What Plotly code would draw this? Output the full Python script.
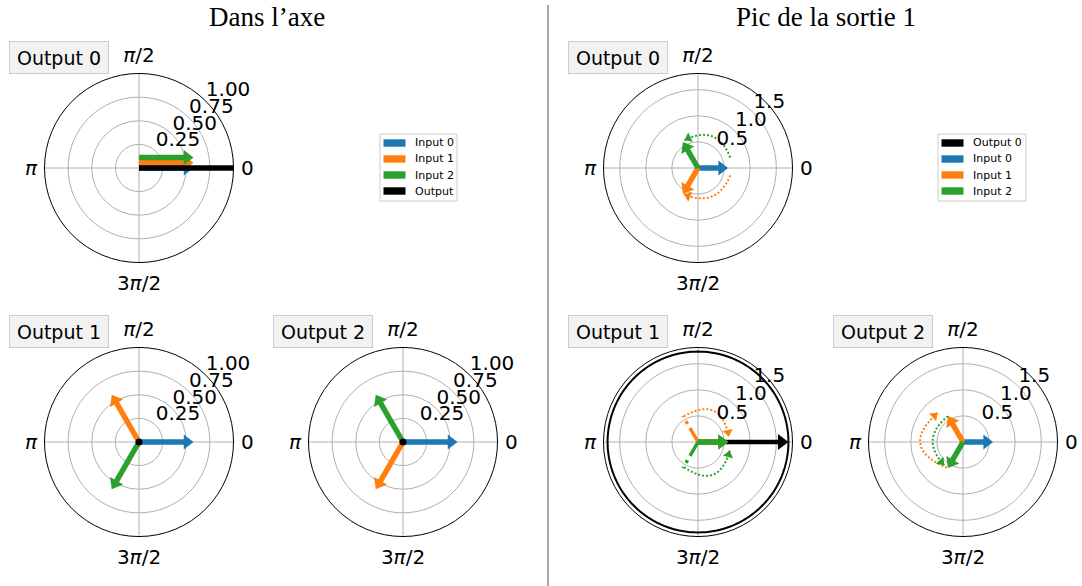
import numpy as np
import plotly.graph_objects as go

W, H = 1082, 586
BLUE, ORANGE, GREEN, BLACK = "#1f77b4", "#ff7f0e", "#2ca02c", "#000000"
GRID = "#b0b0b0"
FONT = "DejaVu Sans"

# ── données ─────────────────────────────────────────────────────────────
panel_titles = ["Dans l’axe", "Pic de la sortie 1"]
output_names = ["Output 0", "Output 1", "Output 2"]
input_names = ["Input 0", "Input 1", "Input 2"]
input_colors = [BLUE, ORANGE, GREEN]
input_mag = [0.577, 0.577, 0.577]

# "Dans l'axe" : phase (deg) de chaque entrée, une ligne par sortie
axe_phase = [[0, 0, 0], [0, 120, 240], [0, 240, 120]]
axe_output = [1.0, 0.0, 0.0]
axe_offset = [[0.0, 0.055, 0.11], [0.0, 0.0, 0.0], [0.0, 0.0, 0.0]]
axe_rticks = [0.25, 0.50, 0.75, 1.00]
axe_rlabels = ["0.25", "0.50", "0.75", "1.00"]
axe_rmax = 1.0

# "Pic de la sortie 1"
pic_phase = [[0, 240, 120], [0, 0, 0], [0, 120, 240]]
pic_output = [0.0, 1.732, 0.0]
pic_ghost = [[None, None, None], [None, 120, 240], [None, None, None]]
pic_rticks = [0.5, 1.0, 1.5]
pic_rlabels = ["0.5", "1.0", "1.5"]
pic_rmax = 1.81

# flèches pointillées (rotation de phase) : sortie, entrée, départ, arrivée, courbure
arc_out = [0, 0, 1, 1, 2, 2]
arc_inp = [2, 1, 1, 2, 1, 2]
arc_r0 = [0.65, 0.635, 0.56, 0.55, 0.58, 0.57]
arc_t0 = [18, -13, 119, 241, 238, 120]
arc_r1 = [0.59, 0.57, 0.60, 0.63, 0.74, 0.57]
arc_t1 = [116, 242, 10, -15, 131, 231]
arc_rad = [0.55, -0.5, -0.7, 0.7, -0.8, 0.55]

# légendes
leg_left_names = ["Input 0", "Input 1", "Input 2", "Output"]
leg_left_colors = [BLUE, ORANGE, GREEN, BLACK]
leg_right_names = ["Output 0", "Input 0", "Input 1", "Input 2"]
leg_right_colors = [BLACK, BLUE, ORANGE, GREEN]

# ── mise en page ────────────────────────────────────────────────────────
R = 94.5
centers = {  # (panneau, sortie) -> centre en px
    (0, 0): (139, 168), (0, 1): (139, 442), (0, 2): (403, 442),
    (1, 0): (698, 168), (1, 1): (698, 442), (1, 2): (963, 442),
}


def px(x):
    return x / W


def py(y):
    return 1 - y / H


def xy2pol(x, y):
    x, y = np.asarray(x, float), np.asarray(y, float)
    return np.hypot(x, y), np.degrees(np.arctan2(y, x))


fig = go.Figure()


def head_marker(sub, xt, yt, ang, color, size, ppu):
    # triangle centré : la pointe est à size/2 px du centre
    back = 0.5 * size / ppu
    a = np.deg2rad(ang)
    r, t = xy2pol([xt - back * np.cos(a)], [yt - back * np.sin(a)])
    fig.add_trace(go.Scatterpolar(r=r, theta=t, mode="markers", subplot=sub,
                                  marker=dict(symbol="triangle-up", size=size, angle=90 - ang,
                                              color=color, line=dict(width=0)),
                                  showlegend=False, hoverinfo="skip"))


def arrow(sub, mag, phase, color, ppu, width=5.5, head=13, offset=0.0):
    th = np.deg2rad(phase)
    ux, uy = np.cos(th), np.sin(th)
    x0, y0 = -uy * offset, ux * offset
    L = max(mag - 0.5 * head / ppu, 0)
    r, t = xy2pol([x0, x0 + L * ux], [y0, y0 + L * uy])
    fig.add_trace(go.Scatterpolar(r=r, theta=t, mode="lines", subplot=sub,
                                  line=dict(color=color, width=width), showlegend=False,
                                  hoverinfo="skip"))
    head_marker(sub, x0 + mag * ux, y0 + mag * uy, phase, color, head, ppu)


layout_polars = {}
idx = 0
for p in range(2):
    rticks = axe_rticks if p == 0 else pic_rticks
    rlabels = axe_rlabels if p == 0 else pic_rlabels
    rmax = axe_rmax if p == 0 else pic_rmax
    ppu = R / rmax
    for o in range(3):
        idx += 1
        sub = "polar" if idx == 1 else f"polar{idx}"
        cx, cy = centers[(p, o)]
        layout_polars[sub] = dict(
            domain=dict(x=[px(cx - R), px(cx + R)], y=[py(cy + R), py(cy - R)]),
            bgcolor="white",
            angularaxis=dict(tickvals=[0, 90, 180, 270],
                             ticktext=["0", "<i>π</i>/2", "<i>π</i>", "3<i>π</i>/2"],
                             ticks="outside", ticklen=3, tickcolor="rgba(0,0,0,0)",
                             showline=True, linecolor="black", linewidth=1,
                             showgrid=True, gridcolor=GRID, gridwidth=1,
                             tickfont=dict(size=20, color="black", family=FONT)),
            radialaxis=dict(range=[0, rmax], tickvals=rticks, showticklabels=False,
                            ticks="", showline=False, showgrid=True, gridcolor=GRID, gridwidth=1),
        )

        if p == 0:
            for i in range(3):
                arrow(sub, input_mag[i], axe_phase[o][i], input_colors[i], ppu,
                      offset=axe_offset[o][i])
            if axe_output[o] > 0:
                fig.add_trace(go.Scatterpolar(r=[0, axe_output[o]], theta=[0, 0], mode="lines",
                                              subplot=sub, line=dict(color=BLACK, width=5.5),
                                              showlegend=False, hoverinfo="skip"))
            else:
                fig.add_trace(go.Scatterpolar(r=[0], theta=[0], mode="markers", subplot=sub,
                                              marker=dict(color=BLACK, size=7),
                                              showlegend=False, hoverinfo="skip"))
        else:
            if pic_output[o] > 0:
                ring = np.linspace(0, 360, 181)
                fig.add_trace(go.Scatterpolar(r=[pic_output[o]] * len(ring), theta=ring,
                                              mode="lines", subplot=sub,
                                              line=dict(color=BLACK, width=2),
                                              showlegend=False, hoverinfo="skip"))
                arrow(sub, pic_output[o], 0, BLACK, ppu, width=4.5, head=14)
            else:
                fig.add_trace(go.Scatterpolar(r=[0], theta=[0], mode="markers", subplot=sub,
                                              marker=dict(color="#555555", size=4),
                                              showlegend=False, hoverinfo="skip"))
            for i in range(3):
                g = pic_ghost[o][i]
                if g is not None:
                    fig.add_trace(go.Scatterpolar(
                        r=[0, input_mag[i]], theta=[g, g], mode="lines", subplot=sub,
                        line=dict(color=input_colors[i], width=3.5, dash="16px,5px,3px,5px"),
                        showlegend=False, hoverinfo="skip"))
            for i in range(3):
                arrow(sub, input_mag[i], pic_phase[o][i], input_colors[i], ppu)
            # arcs de rotation (courbe de Bézier type arc3)
            for k in range(len(arc_out)):
                if arc_out[k] != o:
                    continue
                c = input_colors[arc_inp[k]]
                x1, y1 = arc_r0[k] * np.cos(np.deg2rad(arc_t0[k])), arc_r0[k] * np.sin(np.deg2rad(arc_t0[k]))
                x2, y2 = arc_r1[k] * np.cos(np.deg2rad(arc_t1[k])), arc_r1[k] * np.sin(np.deg2rad(arc_t1[k]))
                dx, dy = x2 - x1, y2 - y1
                qx = (x1 + x2) / 2 + arc_rad[k] * dy
                qy = (y1 + y2) / 2 - arc_rad[k] * dx
                s = np.linspace(0, 1, 40)
                bx = (1 - s) ** 2 * x1 + 2 * (1 - s) * s * qx + s ** 2 * x2
                by = (1 - s) ** 2 * y1 + 2 * (1 - s) * s * qy + s ** 2 * y2
                r, t = xy2pol(bx, by)
                fig.add_trace(go.Scatterpolar(r=r, theta=t, mode="lines", subplot=sub,
                                              line=dict(color=c, width=2, dash="2px,2px"),
                                              showlegend=False, hoverinfo="skip"))
                ang = np.degrees(np.arctan2(y2 - qy, x2 - qx))
                head_marker(sub, x2, y2, ang, c, 9, ppu)

        # étiquettes radiales
        fig.add_trace(go.Scatterpolar(r=rticks, theta=[45] * len(rticks), mode="text",
                                      text=rlabels, textposition="top right", subplot=sub,
                                      textfont=dict(size=20, color="black", family=FONT),
                                      cliponaxis=False, showlegend=False, hoverinfo="skip"))

annotations, shapes = [], []
for (p, o), (cx, cy) in centers.items():
    annotations.append(dict(text=output_names[o], x=px(cx - 80), y=py(cy - 110.5),
                            xref="paper", yref="paper", showarrow=False,
                            xanchor="center", yanchor="middle",
                            font=dict(size=19, color="black", family=FONT),
                            bgcolor="#f2f2f2", bordercolor="#cccccc", borderwidth=1,
                            borderpad=3, width=92, height=25))
for p, xc in enumerate([267, 826]):
    annotations.append(dict(text=panel_titles[p], x=px(xc), y=py(17), xref="paper",
                            yref="paper", showarrow=False, xanchor="center", yanchor="middle",
                            font=dict(size=27, color="black", family="Liberation Serif")))

# légendes dessinées (cadre, pastilles, textes)
for (lx, rx), names, cols in (((380, 457), leg_left_names, leg_left_colors),
                              ((938, 1026), leg_right_names, leg_right_colors)):
    shapes.append(dict(type="rect", xref="paper", yref="paper", x0=px(lx), x1=px(rx),
                       y0=py(201), y1=py(134), fillcolor="white",
                       line=dict(color="#cccccc", width=1), layer="below"))
    for j, (name, col) in enumerate(zip(names, cols)):
        yc = 143 + 16 * j
        shapes.append(dict(type="rect", xref="paper", yref="paper", x0=px(lx + 3.5),
                           x1=px(lx + 25.5), y0=py(yc + 3.7), y1=py(yc - 3.7),
                           fillcolor=col, line=dict(width=0)))
        annotations.append(dict(text=name, x=px(lx + 33), y=py(yc), xref="paper",
                                yref="paper", showarrow=False, xanchor="left",
                                yanchor="middle",
                                font=dict(size=11, color="black", family=FONT)))

shapes.append(dict(type="line", xref="paper", yref="paper", x0=px(548), x1=px(548),
                   y0=0, y1=py(5), line=dict(color="#555555", width=1)))

fig.update_layout(
    width=W, height=H,
    margin=dict(l=0, r=0, t=0, b=0),
    paper_bgcolor="white",
    showlegend=False,
    font=dict(family=FONT, color="black"),
    annotations=annotations,
    shapes=shapes,
    **layout_polars,
)

fig.write_html("out.html", config={"displayModeBar": False},
               post_script="document.body.style.margin='0';")
